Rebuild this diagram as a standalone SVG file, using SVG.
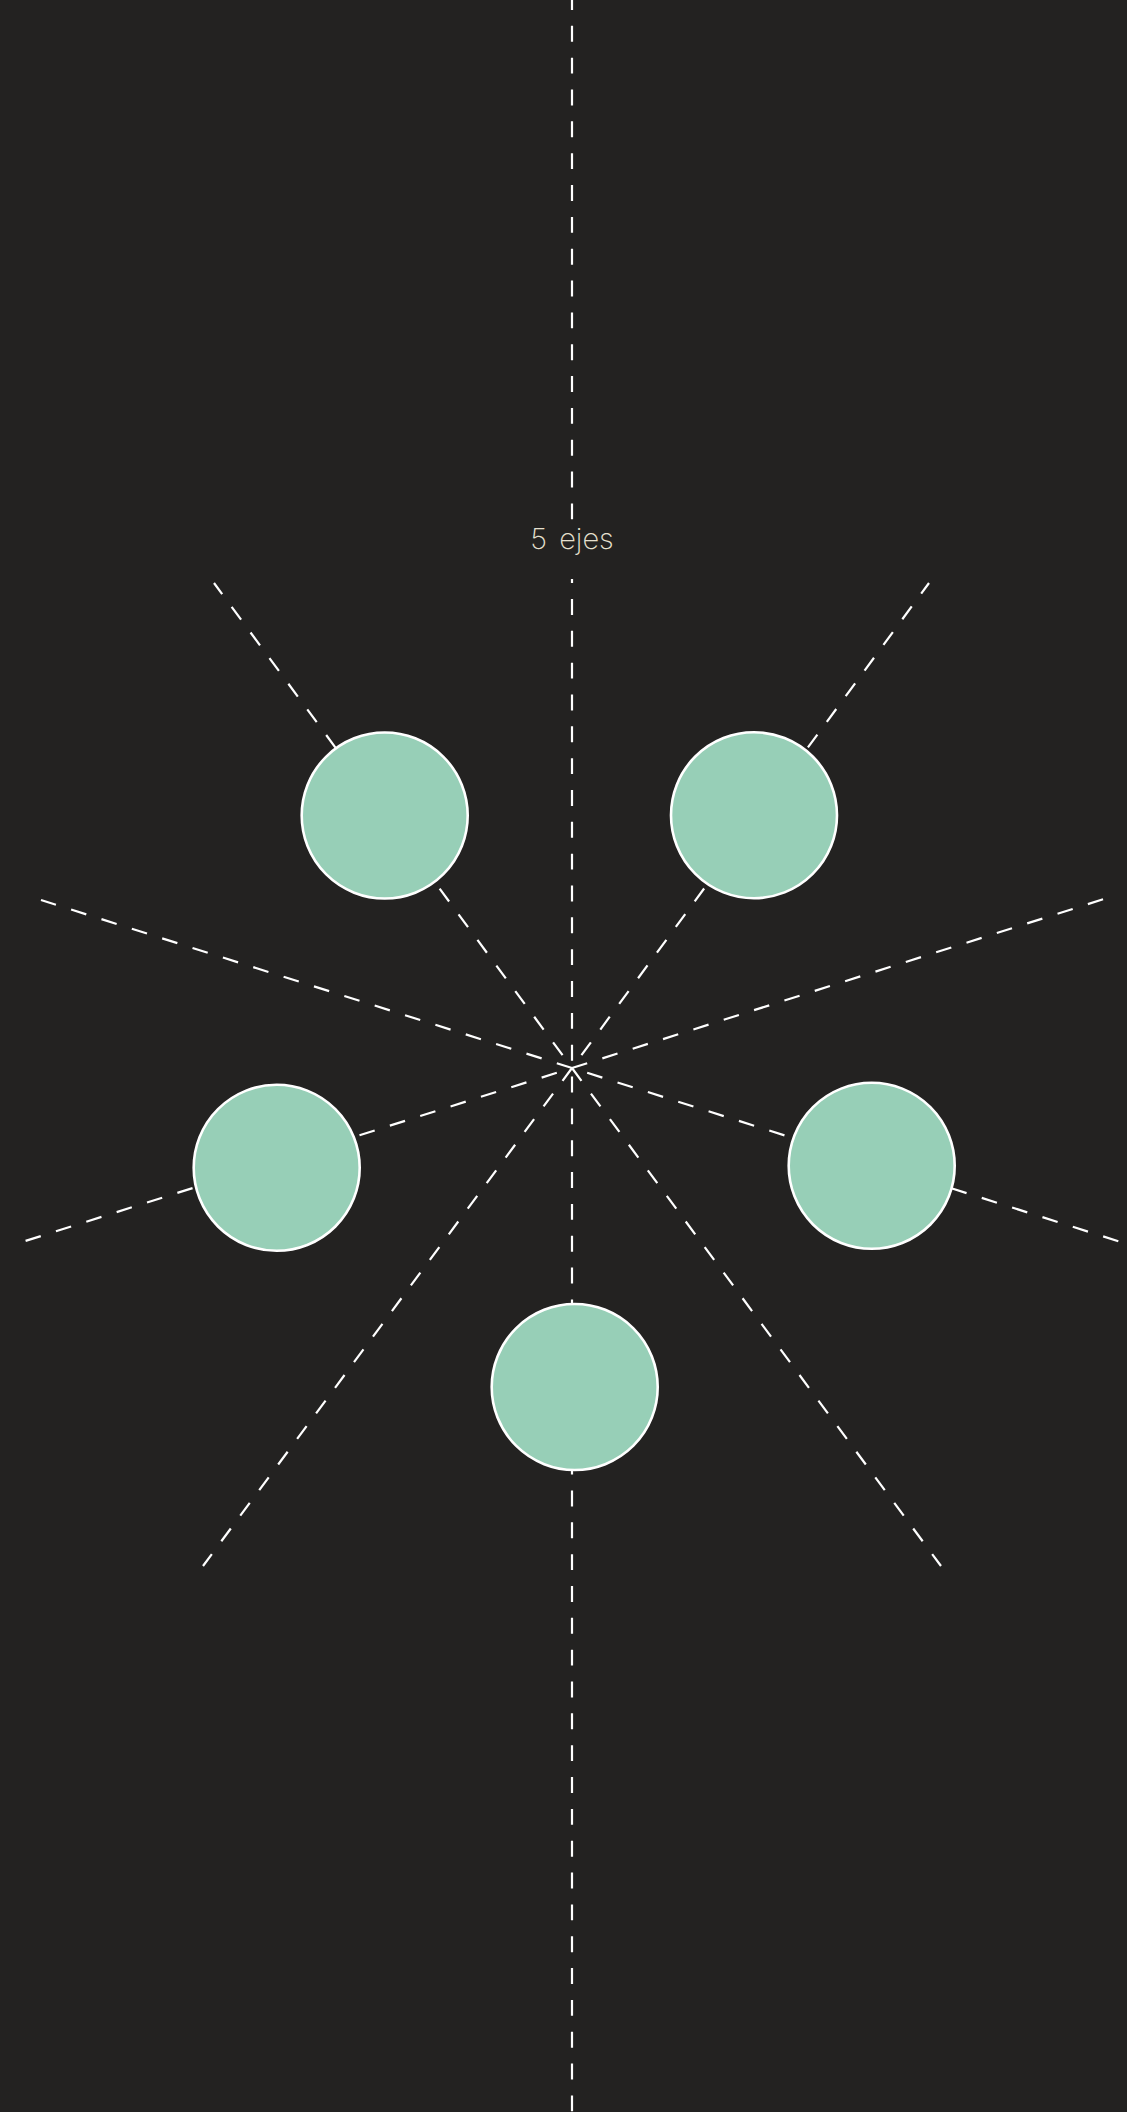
<svg xmlns="http://www.w3.org/2000/svg" width="1127" height="2112" viewBox="0 0 1127 2112">
  <style>
    .axis { fill: none; stroke: #ffffff; stroke-width: 2.2; stroke-dasharray: 15.92 15.92; }
    .gapfirst { stroke-dashoffset: 15.92; }
    .node circle { fill: #97cfb7; stroke: #ffffff; stroke-width: 2.6; }
    .label { font-family: Inter, "Open Sans", "Liberation Sans", sans-serif; font-weight: 200; font-size: 29px; word-spacing: 4px; fill: #e6e0cf; }
  </style>
  <rect x="0" y="0" width="1127" height="2112" fill="#232221"/>
  <g id="axes">
    <line class="axis" x1="572" y1="-6" x2="572" y2="2112"/>
    <line class="axis gapfirst" x1="572" y1="1068" x2="214" y2="583"/>
    <line class="axis" x1="572" y1="1068" x2="941" y2="1566"/>
    <line class="axis gapfirst" x1="572" y1="1068" x2="929" y2="583"/>
    <line class="axis" x1="572" y1="1068" x2="203" y2="1566"/>
    <line class="axis" x1="572" y1="1068" x2="41" y2="900"/>
    <line class="axis gapfirst" x1="572" y1="1068" x2="1124" y2="1243"/>
    <line class="axis" x1="572" y1="1068" x2="1104" y2="899"/>
    <line class="axis gapfirst" x1="572" y1="1068" x2="19" y2="1243"/>
  </g>
  <g id="title">
    <rect x="500" y="520" width="144" height="59" fill="#232221"/>
    <text class="label" x="572" y="549" text-anchor="middle">5 ejes</text>
  </g>
  <g id="node-ul" class="node"><circle cx="384.7" cy="815.5" r="83"/></g>
  <g id="node-ur" class="node"><circle cx="754" cy="815.2" r="83"/></g>
  <g id="node-l" class="node"><circle cx="276.7" cy="1167.8" r="83"/></g>
  <g id="node-r" class="node"><circle cx="871.7" cy="1165.8" r="83"/></g>
  <g id="node-b" class="node"><circle cx="574.7" cy="1387" r="83"/></g>
</svg>
